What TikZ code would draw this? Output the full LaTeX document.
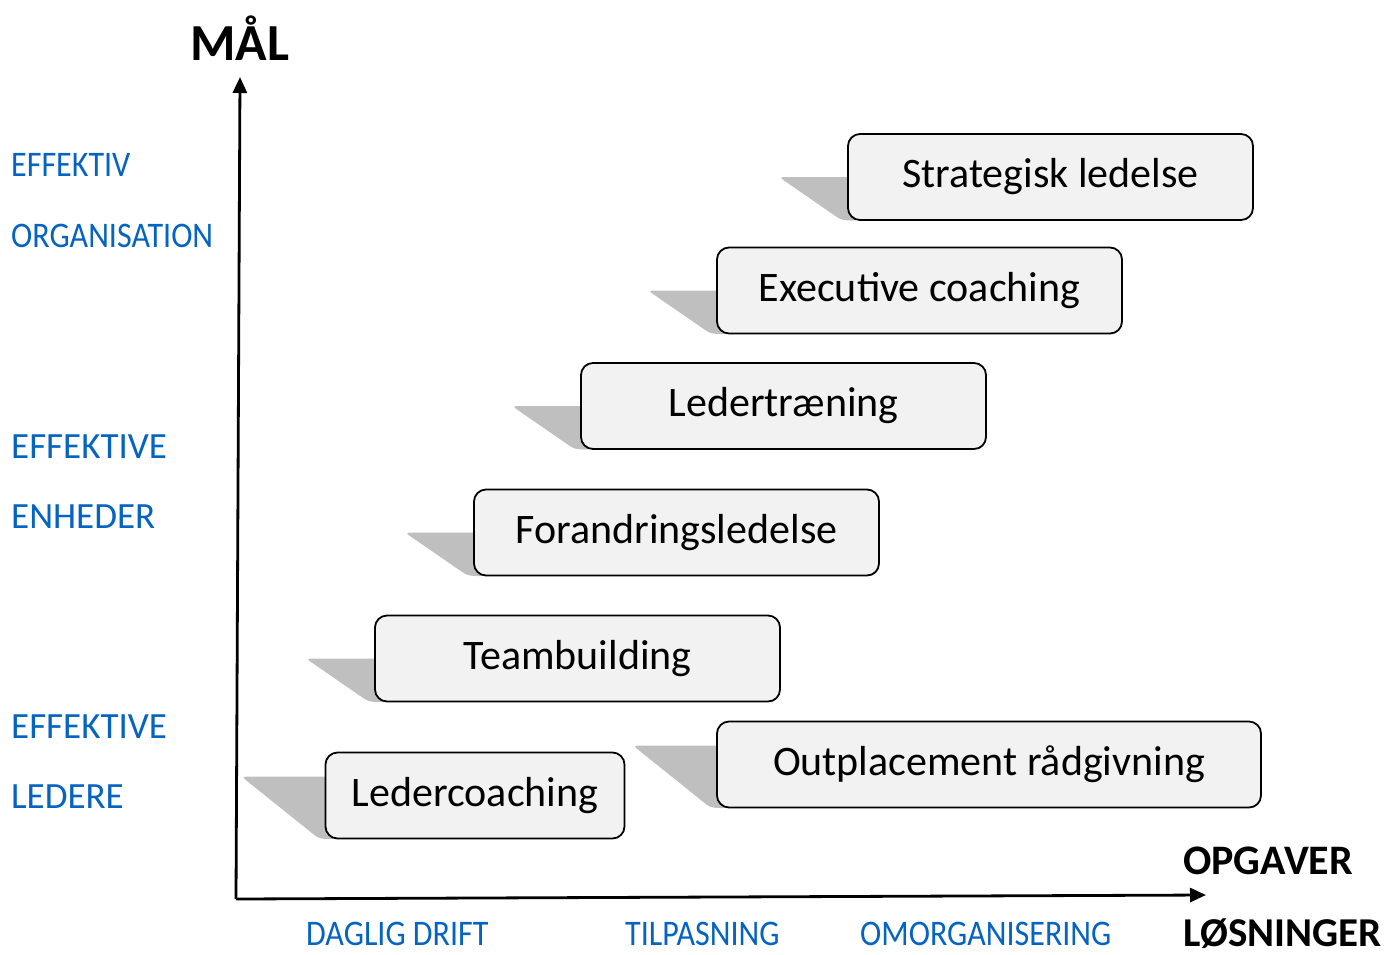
\documentclass[tikz,border=0pt]{standalone}
\usepackage{fontspec}
\setmainfont{Carlito}
\newfontfamily\condfont[FakeStretch=0.89]{Carlito}
\usetikzlibrary{arrows.meta,calc,backgrounds}
\definecolor{lblue}{RGB}{5,99,193}
\definecolor{boxfill}{RGB}{242,242,242}
\definecolor{shadowgray}{RGB}{191,191,191}
\tikzset{
  stepbox/.style={draw=black, line width=1.8pt, fill=boxfill, rounded corners=12pt,
    inner sep=0pt, minimum height=86pt, font=\fontsize{42}{50}\selectfont},
  sidelabel/.style={anchor=base west, inner sep=0pt, text=lblue, font=\fontsize{37}{44}\selectfont},
  condlabel/.style={anchor=base west, inner sep=0pt, text=lblue, font=\condfont\fontsize{36}{43}\selectfont},
  axislabel/.style={anchor=base west, inner sep=0pt, text=black, font=\bfseries\fontsize{42}{50}\selectfont},
  axisline/.style={line width=2.8pt, -{Triangle[length=16pt,width=14pt]}},
  shadowfill/.style={fill=shadowgray, draw=none, rounded corners=4pt}
}
\newcommand\boxshadow[3]{%
  \fill[shadowfill] ($(#1.north west)+(-#2,#3)$) -- ($(#1.north west)+(10,#3)$)
    -- ($(#1.south west)+(10,0)$) -- ($(#1.south west)+(-6,-1)$) -- cycle;}
\begin{document}
\begin{tikzpicture}[x=1pt,y=-1pt]
\useasboundingbox (0,0) rectangle (1392,954);
% boxes
\node[stepbox, minimum width=405pt] (strat) at (1050.5,177) {Strategisk ledelse};
\node[stepbox, minimum width=405pt] (exec) at (919.5,290.5) {Executive coaching};
\node[stepbox, minimum width=405pt] (ledtr) at (783.5,406) {Ledertræning};
\node[stepbox, minimum width=405pt] (foran) at (676.5,532.5) {Forandringsledelse};
\node[stepbox, minimum width=405pt] (team) at (577.5,658.5) {Teambuilding};
\node[stepbox, minimum width=299pt] (ledco) at (475,795.5) {Ledercoaching};
\node[stepbox, minimum width=544pt] (outpl) at (989,764.5) {Outplacement rådgivning};
% shadows
\begin{scope}[on background layer]
  \fill[white] (0,0) rectangle (1392,954);
  \boxshadow{strat}{68}{44}
  \boxshadow{exec}{68}{44}
  \boxshadow{ledtr}{68}{44}
  \boxshadow{foran}{68}{44}
  \boxshadow{team}{68}{44}
  \boxshadow{ledco}{83}{25}
  \boxshadow{outpl}{83}{25}
\end{scope}
% axes
\coordinate (O) at (236,899);
\coordinate (ytip) at (240,77);
\coordinate (xtip) at (1206,895);
\draw[axisline] (O) -- (ytip);
\draw[axisline] (O) -- (xtip);
% axis titles
\node[anchor=base west, inner sep=0pt, font=\bfseries\fontsize{52}{60}\selectfont] (mal) at (190,60) {MÅL};
\node[axislabel] (opg) at (1183,874) {OPGAVER};
\node[axislabel, font=\bfseries\fontsize{41}{50}\selectfont] (los) at (1183,946) {LØSNINGER};
% side labels
\node[condlabel] (eff1) at (11,176) {EFFEKTIV};
\node[condlabel] (org) at (11,247) {ORGANISATION};
\node[sidelabel] (eff2) at (11,458) {EFFEKTIVE};
\node[sidelabel] (enh) at (11,528) {ENHEDER};
\node[sidelabel] (eff3) at (11,738) {EFFEKTIVE};
\node[sidelabel] (led) at (11,808) {LEDERE};
% bottom labels
\node[condlabel] (dag) at (306,945) {DAGLIG DRIFT};
\node[condlabel] (tilp) at (625,945) {TILPASNING};
\node[condlabel] (omorg) at (860,945) {OMORGANISERING};
\end{tikzpicture}
\end{document}
